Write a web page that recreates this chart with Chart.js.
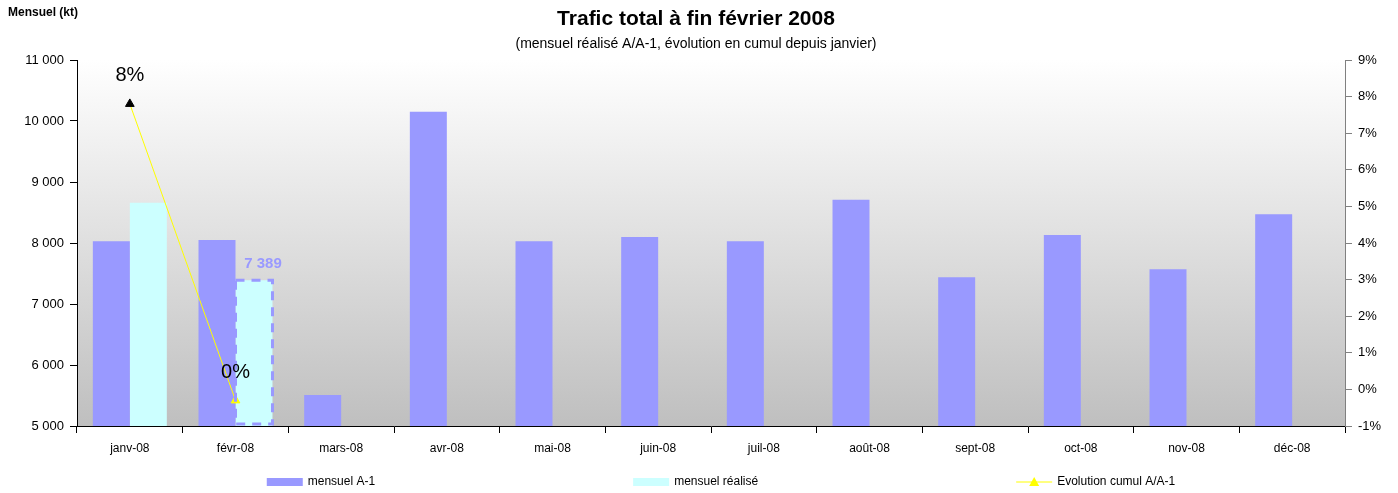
<!DOCTYPE html>
<html>
<head>
<meta charset="utf-8">
<script src="https://cdn.jsdelivr.net/npm/chart.js@4"></script>
<style>
  html, body { margin: 0; padding: 0; background: #fff; }
  #wrap { width: 1398px; height: 493px; }
</style>
</head>
<body>
<div id="wrap"><canvas id="myChart" width="1398" height="493"></canvas></div>
<script>
const months = ['janv-08', 'févr-08', 'mars-08', 'avr-08', 'mai-08', 'juin-08',
                'juil-08', 'août-08', 'sept-08', 'oct-08', 'nov-08', 'déc-08'];
const mensuelA1 = [8030, 8050, 5510, 10150, 8030, 8100, 8030, 8710, 7440, 8130, 7570, 8470];
const mensuelRealise = [8660, 7389, null, null, null, null, null, null, null, null, null, null];
const evolutionCumul = [7.8, -0.3, null, null, null, null, null, null, null, null, null, null];

const FONT = "'Liberation Sans', Arial, sans-serif";

function fmtThousands(v) {
    return String(Math.round(v)).replace(/\B(?=(\d{3})+(?!\d))/g, ' ');
}

// gradient behind the plot area
const plotBackground = {
    id: 'plotBackground',
    beforeDraw(chart) {
        const { ctx, chartArea: a } = chart;
        const g = ctx.createLinearGradient(0, a.top, 0, a.bottom);
        g.addColorStop(0, '#ffffff');
        g.addColorStop(1, '#bfbfbf');
        ctx.save();
        ctx.fillStyle = g;
        ctx.fillRect(a.left, a.top, a.right - a.left, a.bottom - a.top);
        ctx.restore();
    }
};

// titles, labels on points and bar, legend at the bottom
const extras = {
    id: 'extras',
    afterDatasetsDraw(chart) {
        const ctx = chart.ctx;
        const a = chart.chartArea;
        ctx.save();

        // dashed outline + value label on last realised bar
        const barMeta = chart.getDatasetMeta(1);
        let last = -1;
        mensuelRealise.forEach((v, i) => { if (v !== null) last = i; });
        if (last >= 0) {
            const el = barMeta.data[last];
            const bottom = Math.min(el.base, a.bottom) - 2;
            ctx.setLineDash([9, 7]);
            ctx.lineWidth = 3;
            ctx.strokeStyle = '#9999ff';
            ctx.strokeRect(el.x - el.width / 2, el.y, el.width, bottom - el.y);
            ctx.setLineDash([]);
            ctx.fillStyle = '#9999ff';
            ctx.font = 'bold 15px ' + FONT;
            ctx.textAlign = 'center';
            ctx.textBaseline = 'middle';
            ctx.fillText(fmtThousands(mensuelRealise[last]), el.x + 9, el.y - 16);
        }

        // percent labels above the line points
        const lineMeta = chart.getDatasetMeta(2);
        ctx.fillStyle = '#000';
        ctx.font = '20px ' + FONT;
        ctx.textAlign = 'center';
        ctx.textBaseline = 'middle';
        evolutionCumul.forEach((v, i) => {
            if (v === null) return;
            const p = lineMeta.data[i];
            ctx.fillText(Math.round(v) + '%', p.x, p.y - 28);
        });
        ctx.restore();
    },
    afterDraw(chart) {
        const { ctx, chartArea: a } = chart;
        ctx.save();
        ctx.fillStyle = '#000';
        ctx.textBaseline = 'middle';

        ctx.textAlign = 'left';
        ctx.font = 'bold 12px ' + FONT;
        ctx.fillText('Mensuel (kt)', 8, 13);

        ctx.textAlign = 'center';
        ctx.font = 'bold 21px ' + FONT;
        ctx.fillText('Trafic total à fin février 2008', 696, 19);
        ctx.font = '14px ' + FONT;
        ctx.fillText('(mensuel réalisé A/A-1, évolution en cumul depuis janvier)', 696, 44);

        // legend
        const ds = chart.data.datasets;
        ctx.font = '12px ' + FONT;
        ctx.textAlign = 'left';
        const boxW = 36, gap = 5, spacing = 258;
        const widths = ds.map(d => boxW + gap + ctx.measureText(d.label).width);
        const total = widths.reduce((s, w) => s + w, 0) + spacing * (ds.length - 1);
        let x = (a.left + a.right) / 2 + 10 - total / 2;
        const y = 482;
        ds.forEach((d, i) => {
            if (d.type === 'line') {
                ctx.strokeStyle = d.borderColor;
                ctx.lineWidth = 1;
                ctx.beginPath();
                ctx.moveTo(x, y);
                ctx.lineTo(x + boxW, y);
                ctx.stroke();
                ctx.fillStyle = d.borderColor;
                ctx.beginPath();
                ctx.moveTo(x + boxW / 2, y - 5);
                ctx.lineTo(x + boxW / 2 + 5, y + 4);
                ctx.lineTo(x + boxW / 2 - 5, y + 4);
                ctx.closePath();
                ctx.fill();
            } else {
                ctx.fillStyle = d.backgroundColor;
                ctx.fillRect(x, y - 4, boxW, 8);
            }
            ctx.fillStyle = '#000';
            ctx.fillText(d.label, x + boxW + gap, y);
            x += widths[i] + spacing;
        });
        ctx.restore();
    }
};

const ctx = document.getElementById('myChart').getContext('2d');

new Chart(ctx, {
    data: {
        labels: months,
        datasets: [{
            type: 'bar',
            label: 'mensuel A-1',
            data: mensuelA1,
            backgroundColor: '#9999ff',
            yAxisID: 'y',
            order: 2
        }, {
            type: 'bar',
            label: 'mensuel réalisé',
            data: mensuelRealise,
            backgroundColor: '#ccffff',
            yAxisID: 'y',
            order: 2
        }, {
            type: 'line',
            label: 'Evolution cumul A/A-1',
            data: evolutionCumul,
            borderColor: '#ffff00',
            borderWidth: 1,
            pointStyle: 'triangle',
            pointRadius: 5,
            pointBackgroundColor: ['#000000', '#ffff00'],
            pointBorderColor: ['#000000', '#ffff00'],
            yAxisID: 'y1',
            spanGaps: false,
            order: 1
        }]
    },
    options: {
        responsive: false,
        animation: false,
        layout: {
            padding: { top: 60, left: 0, right: 0, bottom: 0 }
        },
        datasets: {
            bar: {
                categoryPercentage: 0.7,
                barPercentage: 1.0
            }
        },
        scales: {
            x: {
                grid: {
                    display: true,
                    drawOnChartArea: false,
                    offset: true,
                    tickLength: 7,
                    color: '#000'
                },
                border: { color: '#000' },
                ticks: {
                    color: '#000',
                    padding: 8,
                    maxRotation: 0,
                    font: { family: FONT, size: 12 }
                },
                afterFit(scale) { scale.height = 67; }
            },
            y: {
                position: 'left',
                min: 5000,
                max: 11000,
                grid: {
                    drawOnChartArea: false,
                    tickLength: 7,
                    color: '#000'
                },
                border: { color: '#000' },
                ticks: {
                    stepSize: 1000,
                    color: '#000',
                    padding: 6,
                    font: { family: FONT, size: 13 },
                    callback: (v) => fmtThousands(v)
                },
                afterFit(scale) { scale.width = 77; }
            },
            y1: {
                position: 'right',
                min: -1,
                max: 9,
                grid: {
                    drawOnChartArea: false,
                    tickLength: 7,
                    color: '#808080'
                },
                border: { color: '#808080' },
                ticks: {
                    stepSize: 1,
                    color: '#000',
                    padding: 6,
                    font: { family: FONT, size: 13 },
                    callback: (v) => v + '%'
                },
                afterFit(scale) { scale.width = 53; }
            }
        },
        plugins: {
            legend: { display: false },
            tooltip: { enabled: false }
        }
    },
    plugins: [plotBackground, extras]
});
</script>
</body>
</html>
